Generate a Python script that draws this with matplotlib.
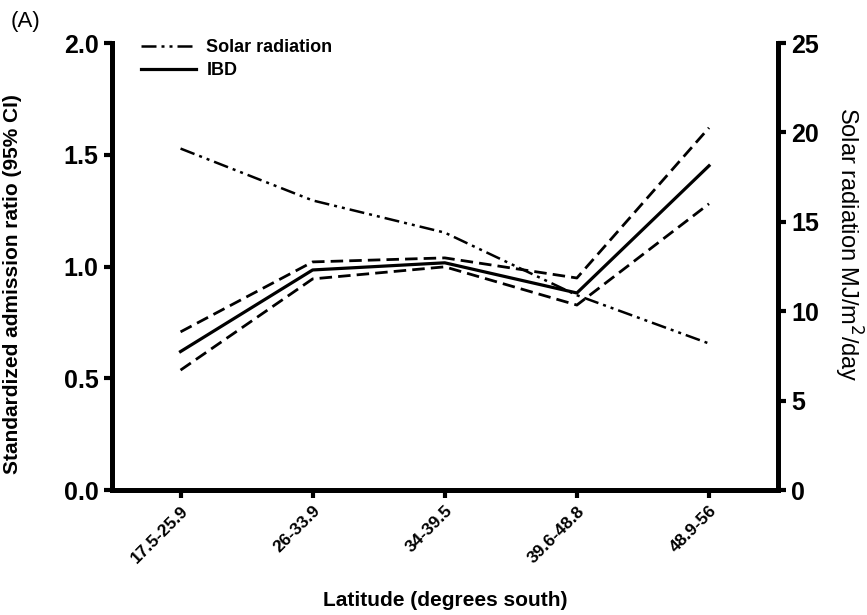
import matplotlib
matplotlib.use('Agg')
import matplotlib.pyplot as plt

latitudes = ["17.5-25.9", "26-33.9", "34-39.5", "39.6-48.8", "48.9-56"]
ibd = [0.62, 0.985, 1.017, 0.882, 1.451]
ibd_upper = [0.708, 1.021, 1.039, 0.949, 1.621]
ibd_lower = [0.537, 0.945, 0.999, 0.828, 1.281]
solar = [19.1, 16.2, 14.4, 10.9, 8.2]

plt.rcParams['font.family'] = ['Liberation Sans', 'DejaVu Sans']

fig = plt.figure(figsize=(8.67, 6.15), dpi=100)
ax = fig.add_axes([0.129, 0.203, 0.768, 0.727])
ax2 = ax.twinx()

x = list(range(len(latitudes)))
ax.plot(x, ibd_upper, color='black', lw=2.0, dashes=(4.5, 2.2))
ax.plot(x, ibd_lower, color='black', lw=2.0, dashes=(4.5, 2.2))
ibd_line, = ax.plot(x, ibd, color='black', lw=2.3, label='IBD')
solar_line, = ax2.plot(x, solar, color='black', lw=1.8, dashes=(6, 2, 1.2, 2, 1.2, 2),
                       label='Solar radiation')

ax.set_xlim(-0.52, 4.52)
ax.set_ylim(0, 2.0)
ax2.set_ylim(0, 25)
ax.set_yticks([0.0, 0.5, 1.0, 1.5, 2.0])
ax.set_yticklabels(["0.0", "0.5", "1.0", "1.5", "2.0"])
ax2.set_yticks([0, 5, 10, 15, 20, 25])
ax.set_xticks(x)
ax.set_xticklabels(latitudes, rotation=45, ha='right', rotation_mode='anchor',
                   fontsize=12.5, fontweight='bold')

for a in (ax, ax2):
    a.spines['top'].set_visible(False)
    for s in a.spines.values():
        s.set_linewidth(3.5)
    a.tick_params(width=3, length=6)
ax.tick_params(axis='y', labelsize=18)
ax2.tick_params(axis='y', labelsize=18)
for lab in ax.get_yticklabels() + ax2.get_yticklabels():
    lab.set_fontweight('bold')

ax.set_xlabel("Latitude (degrees south)", fontsize=15, fontweight='bold', labelpad=18)
ax.set_ylabel("Standardized admission ratio (95% CI)", fontsize=15, fontweight='bold')
ax.yaxis.set_label_coords(-0.135, 0.46)
ax2.set_ylabel("Solar radiation MJ/m$^2$/day", fontsize=17, fontweight='medium',
               rotation=270, va='center')
ax2.yaxis.set_label_coords(1.105, 0.55)

ax.legend([solar_line, ibd_line], ['Solar radiation', 'IBD'], loc='upper left',
          bbox_to_anchor=(0.02, 1.045), frameon=False, handlelength=3.0,
          handletextpad=0.6, labelspacing=0.35,
          prop={'weight': 'bold', 'size': 13})

fig.text(0.012, 0.965, "(A)", fontsize=16, va='center')

fig.savefig("out.png", dpi=100)
